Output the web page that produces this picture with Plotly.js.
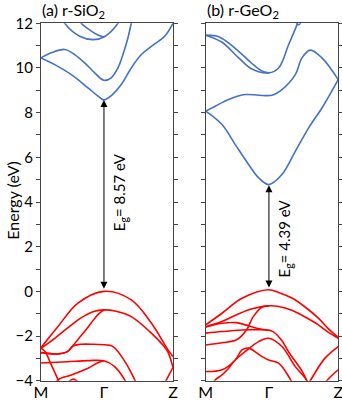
<!DOCTYPE html>
<html>
<head>
<meta charset="utf-8">
<script src="https://cdn.plot.ly/plotly-3.0.1.min.js"></script>
<style>
  body { margin: 0; background: #fff; }
  #plot { width: 342px; height: 401px; }
</style>
</head>
<body>
<div id="plot"></div>
<script>
// k path as fraction of the panel width: M = 0, Gamma ~ 0.477, Z = 1
var kTicks = [0, 0.477, 1];
var kLabels = ['M', 'Γ', 'Z'];
var energyTicks = [-4, -2, 0, 2, 4, 6, 8, 10, 12];

// (a) r-SiO2 conduction bands
var siCondK = [
  [0, 0.104, 0.230, 0.356, 0.432, 0.477, 0.528, 0.608, 0.684, 0.760, 0.836, 0.937, 1.0],
  [0, 0.078, 0.180, 0.255, 0.331, 0.407, 0.477, 0.532, 0.583, 0.621, 0.659, 0.684, 0.71],
  [0.15, 0.18, 0.293, 0.394, 0.477, 0.583, 0.62],
  [0.27, 0.305, 0.381, 0.44, 0.477]
];
var siCondE = [
  [10.45, 10.15, 9.7, 9.11, 8.74, 8.57, 8.74, 9.26, 10.0, 10.6, 10.97, 11.42, 12.0],
  [10.45, 10.68, 10.83, 10.6, 10.23, 9.78, 9.45, 9.56, 10.0, 10.6, 11.35, 12.0, 12.6],
  [12.4, 12.0, 11.42, 11.27, 11.39, 12.0, 12.5],
  [12.3, 12.0, 11.65, 11.45, 11.39]
];

// (a) r-SiO2 valence bands
var siValK = [
  [0, 0.129, 0.28, 0.477, 0.684, 0.836, 0.962, 1.0],
  [0, 0.104, 0.2, 0.3, 0.4, 0.477, 0.56, 0.684, 0.836, 0.93, 0.962, 1.0],
  [0, 0.13, 0.2, 0.24, 0.28, 0.33, 0.38, 0.43, 0.477],
  [0, 0.13, 0.2, 0.24, 0.3, 0.4, 0.5, 0.54, 0.583, 0.62, 0.659, 0.71, 0.74],
  [0, 0.2, 0.356, 0.477, 0.558, 0.634, 0.66],
  [0, 0.03, 0.078, 0.129, 0.15],
  [0.1, 0.129, 0.23, 0.356, 0.43, 0.477],
  [0.2, 0.245, 0.29],
  [0.9, 0.95, 1.0]
];
var siValE = [
  [-2.52, -1.57, -0.53, 0.0, -0.38, -1.42, -2.62, -2.92],
  [-2.55, -2.1, -1.65, -1.2, -0.9, -0.83, -0.88, -1.13, -1.87, -2.45, -2.72, -3.4],
  [-2.74, -2.8, -2.7, -2.45, -2.15, -1.8, -1.42, -1.05, -0.83],
  [-2.74, -2.8, -2.7, -2.45, -2.37, -2.37, -2.4, -2.45, -2.69, -3.0, -3.37, -3.96, -4.3],
  [-3.21, -3.15, -3.1, -3.11, -3.37, -3.96, -4.3],
  [-2.55, -2.69, -3.29, -3.96, -4.3],
  [-4.3, -3.96, -3.74, -3.44, -3.2, -3.11],
  [-4.1, -3.93, -4.1],
  [-4.5, -3.96, -3.4]
];

// (b) r-GeO2 conduction bands
var geCondK = [
  [0, 0.123, 0.223, 0.324, 0.4, 0.475, 0.575, 0.676, 0.777, 0.877, 1.0],
  [0, 0.072, 0.173, 0.299, 0.4, 0.5, 0.575, 0.676, 0.726, 0.789, 0.877, 1.0],
  [0, 0.123, 0.249, 0.349, 0.475, 0.55, 0.626, 0.689, 0.72],
  [0, 0.098, 0.223, 0.349, 0.42, 0.475],
  [0.66, 0.7, 0.74]
];
var geCondE = [
  [8.07, 7.47, 6.57, 5.68, 5.08, 4.78, 5.23, 6.27, 7.32, 8.21, 9.48],
  [8.07, 8.29, 8.59, 8.81, 8.78, 8.78, 9.03, 9.70, 10.45, 10.8, 10.45, 9.48],
  [11.47, 11.15, 10.45, 9.95, 9.78, 10.0, 11.05, 11.94, 12.5],
  [11.47, 11.4, 10.88, 10.2, 9.88, 9.78],
  [12.3, 11.93, 12.3]
];

// (b) r-GeO2 valence bands
var geValK = [
  [0, 0.123, 0.274, 0.475, 0.55, 0.65, 0.75, 0.85, 0.93, 1.0],
  [0, 0.123, 0.233, 0.35, 0.475, 0.55, 0.65, 0.75, 0.85, 0.93, 1.0],
  [0, 0.123, 0.23, 0.3, 0.385, 0.475],
  [0, 0.123, 0.35, 0.5, 0.57, 0.63, 0.73, 0.77],
  [0, 0.123, 0.233, 0.309, 0.359, 0.434, 0.475],
  [0, 0.123, 0.223, 0.274, 0.324, 0.425, 0.475, 0.55, 0.626, 0.66],
  [0.04, 0.073, 0.123, 0.173, 0.223, 0.299, 0.399, 0.475, 0.575, 0.676, 0.752, 0.78],
  [0.77, 0.8, 0.9, 1.0],
  [0.9, 0.93, 1.0]
];
var geValE = [
  [-1.5, -0.98, -0.31, 0.07, -0.05, -0.3, -0.7, -1.2, -1.7, -2.05],
  [-1.58, -1.35, -1.05, -0.78, -0.65, -0.68, -0.85, -1.15, -1.5, -1.85, -2.1],
  [-1.6, -1.43, -1.4, -1.5, -1.65, -1.75],
  [-1.87, -1.8, -1.72, -1.78, -2.17, -2.75, -3.6, -4.1],
  [-2.4, -2.3, -2.17, -1.72, -1.13, -0.68, -0.65],
  [-3.59, -3.51, -3.07, -2.62, -2.54, -2.92, -3.07, -3.21, -3.81, -4.2],
  [-4.3, -3.96, -3.74, -3.44, -3.07, -2.69, -2.25, -2.1, -2.47, -3.37, -3.89, -4.2],
  [-4.2, -3.89, -2.99, -2.47],
  [-4.1, -3.89, -3.51]
];

var siGap = {bottom: 0.05, top: 8.57, label: 'E<sub>g</sub>= 8.57 eV'};
var geGap = {bottom: 0.1, top: 4.75, label: 'E<sub>g</sub>= 4.39 eV'};

var blue = '#4472C4';
var red = '#FF0000';
var font = 'Lato, "Noto Sans", sans-serif';

var data = [];
function addBands(ks, es, color, xa, ya) {
  for (var i = 0; i < ks.length; i++) {
    data.push({
      x: ks[i], y: es[i], type: 'scatter', mode: 'lines',
      line: {color: color, width: 1.6, shape: 'spline', smoothing: 1},
      xaxis: xa, yaxis: ya, hoverinfo: 'skip'
    });
  }
}
addBands(siCondK, siCondE, blue, 'x', 'y');
addBands(siValK, siValE, red, 'x', 'y');
addBands(geCondK, geCondE, blue, 'x2', 'y2');
addBands(geValK, geValE, red, 'x2', 'y2');

function xAxis(domain, anchor) {
  return {
    domain: domain, range: [0, 1], anchor: anchor, showgrid: false, zeroline: false,
    showline: true, linecolor: '#444', linewidth: 1, mirror: true,
    tickvals: kTicks, ticktext: kLabels, ticks: '',
    ticklabeloverflow: 'allow', ticklabelstandoff: -3,
    tickfont: {family: font, size: 16, color: '#000'}
  };
}
function yAxis(domain, anchor, labels) {
  return {
    domain: domain, range: [-4, 12], anchor: anchor, showgrid: false, zeroline: false,
    showline: true, linecolor: '#444', linewidth: 1, mirror: 'ticks',
    tickvals: energyTicks, ticks: 'outside', ticklen: 4, tickcolor: '#444',
    minor: {dtick: 1, ticks: 'outside', ticklen: 4, tickcolor: '#444'},
    showticklabels: labels,
    tickfont: {family: font, size: 15, color: '#000'}
  };
}

var yDom = [0.0506, 0.9419];

function gapArrow(xa, ya, gap) {
  return {
    xref: xa, yref: ya, axref: xa, ayref: ya,
    x: 0.477, y: gap.top, ax: 0.477, ay: gap.bottom,
    text: '', showarrow: true, arrowside: 'end+start',
    arrowhead: 2, startarrowhead: 2, arrowsize: 1.4, startarrowsize: 1.4,
    arrowwidth: 1, arrowcolor: '#000'
  };
}
function gapText(xa, ya, x, y, gap) {
  return {
    xref: xa, yref: ya, x: x, y: y, text: gap.label, showarrow: false,
    textangle: -90, font: {family: font, size: 15, color: '#000'}
  };
}

var layout = {
  width: 342, height: 401,
  margin: {l: 0, r: 0, t: 0, b: 0},
  paper_bgcolor: '#fff', plot_bgcolor: '#fff',
  showlegend: false,
  xaxis: xAxis([0.1199, 0.5058], 'y'),
  yaxis: yAxis(yDom, 'x', true),
  xaxis2: xAxis([0.6015, 0.989], 'y2'),
  yaxis2: yAxis(yDom, 'x2', false),
  annotations: [
    gapArrow('x', 'y', siGap),
    gapArrow('x2', 'y2', geGap),
    gapText('x', 'y', 0.6, 4.45, siGap),
    gapText('x2', 'y2', 0.595, 2.35, geGap),
    {xref: 'paper', yref: 'paper', x: 0.117, y: 0.973, xanchor: 'left', yanchor: 'middle',
     text: '(a) r-SiO<sub>2</sub>', showarrow: false, font: {family: font, size: 16, color: '#000'}},
    {xref: 'paper', yref: 'paper', x: 0.598, y: 0.973, xanchor: 'left', yanchor: 'middle',
     text: '(b) r-GeO<sub>2</sub>', showarrow: false, font: {family: font, size: 16, color: '#000'}},
    {xref: 'paper', yref: 'paper', x: 0.002, y: 0.5, xanchor: 'left', yanchor: 'middle',
     text: 'Energy (eV)', textangle: -90, showarrow: false, font: {family: font, size: 16, color: '#000'}}
  ]
};

Plotly.newPlot('plot', data, layout, {staticPlot: true});
</script>
</body>
</html>
